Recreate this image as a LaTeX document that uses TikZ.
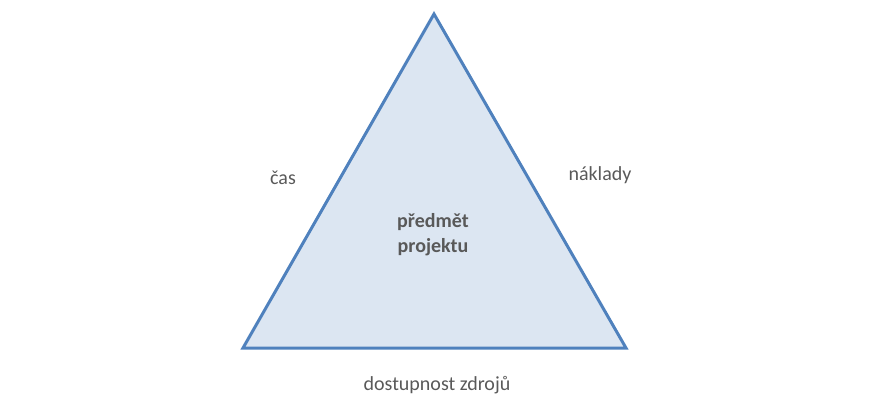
\documentclass[tikz,border=0pt]{standalone}
\usepackage{fontspec}
\setmainfont{Carlito}
\definecolor{triline}{HTML}{4F81BD}
\definecolor{trifill}{HTML}{DCE6F2}
\definecolor{txt}{HTML}{595959}
\begin{document}
\begin{tikzpicture}[x=1pt,y=-1pt,
  lbl/.style={text=txt,font=\fontsize{20}{24}\selectfont,inner sep=0pt},
  ctr/.style={text=txt,font=\bfseries\fontsize{20}{25}\selectfont,inner sep=0pt,align=center}]
\useasboundingbox (0,0) rectangle (871,409);
\coordinate (top) at (434,14);
\coordinate (bl) at (243,348);
\coordinate (br) at (626,348);
\draw[triline,fill=trifill,line width=3pt,line join=miter] (top) -- (br) -- (bl) -- cycle;
\node[lbl] (cas) at (283,178) {čas};
\node[lbl] (naklady) at (600,175) {náklady};
\node[ctr] (predmet) at (433,235) {předmět\\projektu};
\node[lbl] (zdroje) at (437,385) {dostupnost zdrojů};
\end{tikzpicture}
\end{document}
